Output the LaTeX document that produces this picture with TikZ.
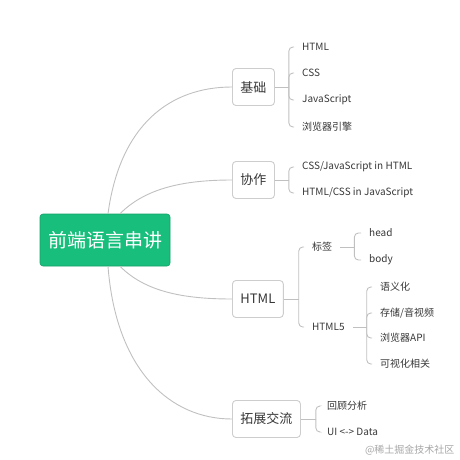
\documentclass[tikz,border=0pt]{standalone}
\usepackage{fontspec}
\setmainfont{Noto Sans CJK SC}
\usepackage{tikz}
\usetikzlibrary{positioning,calc}
\definecolor{mapgreen}{RGB}{24,190,123}
\definecolor{linegray}{RGB}{192,192,192}
\definecolor{boxgray}{RGB}{205,205,205}
\definecolor{inkgray}{RGB}{55,55,55}
\tikzstyle{rootbox}=[fill=mapgreen,draw=mapgreen!85!black,line width=0.6pt,rounded corners=3pt,text=white,font=\fontsize{19}{19}\selectfont,minimum width=130pt,minimum height=52pt]
\tikzstyle{topic}=[draw=boxgray,line width=0.9pt,fill=white,rounded corners=3.5pt,text=inkgray,font=\fontsize{13}{13}\selectfont,minimum height=37pt,inner xsep=8pt,anchor=west]
\tikzstyle{leaf}=[anchor=west,inner xsep=8pt,inner ysep=2pt,text=inkgray,font=\fontsize{10}{10}\selectfont]
\tikzstyle{link}=[draw=linegray,line width=0.9pt]
\tikzstyle{brace}=[link,rounded corners=4pt]

\begin{document}
\begin{tikzpicture}[x=1pt,y=-1pt]
\useasboundingbox (0,0) rectangle (460,460);
\node[rootbox] (root) at (105,240) {前端语言串讲};
\node[topic] (jichu) at (232,87) {基础};
\node[topic] (xiezuo) at (232,180) {协作};
\node[topic] (html) at (232,299) {HTML};
\node[topic] (tuozhan) at (232,419) {拓展交流};

% root to topics
\draw[link] ([xshift=3pt]root.north) .. controls +(12,-89) and +(-62,0) .. (jichu.west);
\draw[link] ([xshift=15pt]root.north) .. controls +(25,-25) and +(-50,0) .. (xiezuo.west);
\draw[link] ([xshift=15pt]root.south) .. controls +(25,25) and +(-50,0) .. (html.west);
\draw[link] ([xshift=3pt]root.south) .. controls +(8,104) and +(-62,0) .. (tuozhan.west);

% jichu
\coordinate (jichu-b) at ([xshift=14pt]jichu.east);
\draw[link] (jichu.east) -- (jichu-b);
\foreach \y/\t [count=\i] in {47/HTML,73/CSS,100/JavaScript,127/浏览器引擎}{
  \node[leaf] (jichu-\i) at (294,\y) {\t};
  \draw[brace] (jichu-b) |- (jichu-\i.west);
}

% xiezuo
\coordinate (xiezuo-b) at ([xshift=14pt]xiezuo.east);
\draw[link] (xiezuo.east) -- (xiezuo-b);
\node[leaf] (xiezuo-1) at (294,167) {CSS/JavaScript in HTML};
\node[leaf] (xiezuo-2) at (294,193) {HTML/CSS in JavaScript};
\draw[brace] (xiezuo-b) |- (xiezuo-1.west);
\draw[brace] (xiezuo-b) |- (xiezuo-2.west);

% html
\coordinate (html-b) at ([xshift=15pt]html.east);
\draw[link] (html.east) -- (html-b);
\node[leaf] (biaoqian) at (304,247) {标签};
\node[leaf] (html5) at (304,327) {HTML5};
\draw[brace] (html-b) |- (biaoqian.west);
\draw[brace] (html-b) |- (html5.west);

\coordinate (biaoqian-b) at ([xshift=14pt]biaoqian.east);
\draw[link] (biaoqian.east) -- (biaoqian-b);
\foreach \y/\t [count=\i] in {233/head,260/body}{
  \node[leaf] (biaoqian-\i) at (361,\y) {\t};
  \draw[brace] (biaoqian-b) |- (biaoqian-\i.west);
}

\coordinate (html5-b) at ([xshift=14pt]html5.east);
\draw[link] (html5.east) -- (html5-b);
\foreach \y/\t [count=\i] in {287/语义化,313/{存储/音视频},338/浏览器API,364/可视化相关}{
  \node[leaf] (html5-\i) at (372,\y) {\t};
  \draw[brace] (html5-b) |- (html5-\i.west);
}

% tuozhan
\coordinate (tuozhan-b) at ([xshift=15pt]tuozhan.east);
\draw[link] (tuozhan.east) -- (tuozhan-b);
\node[leaf] (tuozhan-1) at (319,406) {回顾分析};
\node[leaf] (tuozhan-2) at (319,432) {UI <-> Data};
\draw[brace] (tuozhan-b) |- (tuozhan-1.west);
\draw[brace] (tuozhan-b) |- (tuozhan-2.west);

\node[anchor=east,text=black!35,font=\fontsize{10}{10}\selectfont] (mark) at (458,450) {@稀土掘金技术社区};
\end{tikzpicture}
\end{document}
